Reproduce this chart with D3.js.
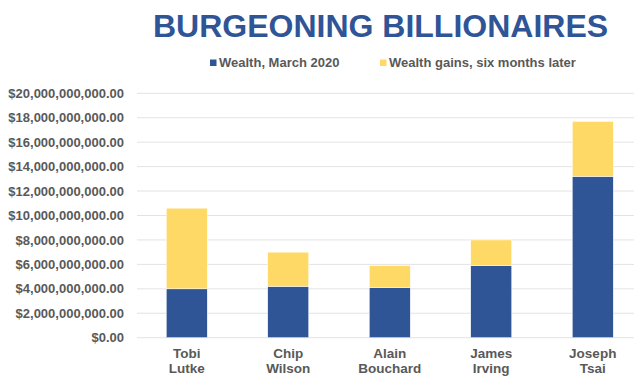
<!DOCTYPE html>
<html><head><meta charset="utf-8">
<script src="https://cdn.jsdelivr.net/npm/d3@7"></script>
<style>body{margin:0;background:#fff}svg{display:block}</style>
</head><body>
<script>
const names = [["Tobi","Lutke"],["Chip","Wilson"],["Alain","Bouchard"],["James","Irving"],["Joseph","Tsai"]];
const wealthMarch = [4.0e9, 4.2e9, 4.1e9, 5.9e9, 13.2e9];
const wealthGains = [6.6e9, 2.8e9, 1.8e9, 2.1e9, 4.5e9];
const yTicks = [0,2e9,4e9,6e9,8e9,10e9,12e9,14e9,16e9,18e9,20e9];
const seriesNames = ["Wealth, March 2020","Wealth gains, six months later"];
const colors = ["#2F5597","#FFD966"];

const W=640,H=383;
const svg=d3.select("body").append("svg").attr("width",W).attr("height",H);
const font="Liberation Sans, Arial, sans-serif";
const x=d3.scaleBand().domain(names.map((d,i)=>i)).range([136,643.5]).paddingInner(0.596).paddingOuter(0.298);
const y=d3.scaleLinear().domain([0,20e9]).range([337.7,93.3]);

svg.append("text").attr("x",380.5).attr("y",36.5).attr("text-anchor","middle")
 .attr("font-family",font).attr("font-weight","bold").attr("font-size",32)
 .attr("fill","#2F5597").text("BURGEONING BILLIONAIRES");

// legend
const leg=[{x:210,t:seriesNames[0],c:colors[0]},{x:380,t:seriesNames[1],c:colors[1]}];
leg.forEach(l=>{
 svg.append("rect").attr("x",l.x).attr("y",59.5).attr("width",6.5).attr("height",6.5).attr("fill",l.c);
 svg.append("text").attr("x",l.x+9).attr("y",67).attr("font-family",font).attr("font-weight","bold").attr("font-size",13).attr("fill","#595959").text(l.t);
});

// grid
const fmt=d=>"$"+d3.format(",.2f")(d);
svg.append("g").selectAll("line").data(yTicks).join("line")
 .attr("x1",137).attr("x2",634).attr("y1",d=>y(d)).attr("y2",d=>y(d))
 .attr("stroke","#E3E3E3").attr("stroke-width",1);
const ya=svg.append("g").attr("transform","translate(136,0)")
 .call(d3.axisLeft(y).tickValues(yTicks).tickFormat(fmt).tickSize(0).tickPadding(12));
ya.select(".domain").remove();
ya.selectAll("text").attr("font-family",font).attr("font-weight","bold").attr("font-size",13).attr("fill","#595959");

// bars
const stackData=names.map((n,i)=>({i,a:wealthMarch[i],b:wealthGains[i]}));
const stack=d3.stack().keys(["a","b"])(stackData);
svg.append("g").selectAll("g").data(stack).join("g").attr("fill",(d,k)=>colors[k])
 .selectAll("rect").data(d=>d).join("rect")
 .attr("x",d=>x(d.data.i)).attr("width",x.bandwidth())
 .attr("y",d=>y(d[1])).attr("height",d=>y(d[0])-y(d[1]))
 .attr("stroke","#fff").attr("stroke-width",0.5);

// x labels
const xl=svg.append("g");
names.forEach((n,i)=>{
 const cx=x(i)+x.bandwidth()/2;
 const t=xl.append("text").attr("x",cx).attr("y",358.3).attr("text-anchor","middle")
  .attr("font-family",font).attr("font-weight","bold").attr("font-size",13.5).attr("fill","#595959");
 t.append("tspan").attr("x",cx).text(n[0]);
 t.append("tspan").attr("x",cx).attr("dy",14.5).text(n[1]);
});
</script>
</body></html>
